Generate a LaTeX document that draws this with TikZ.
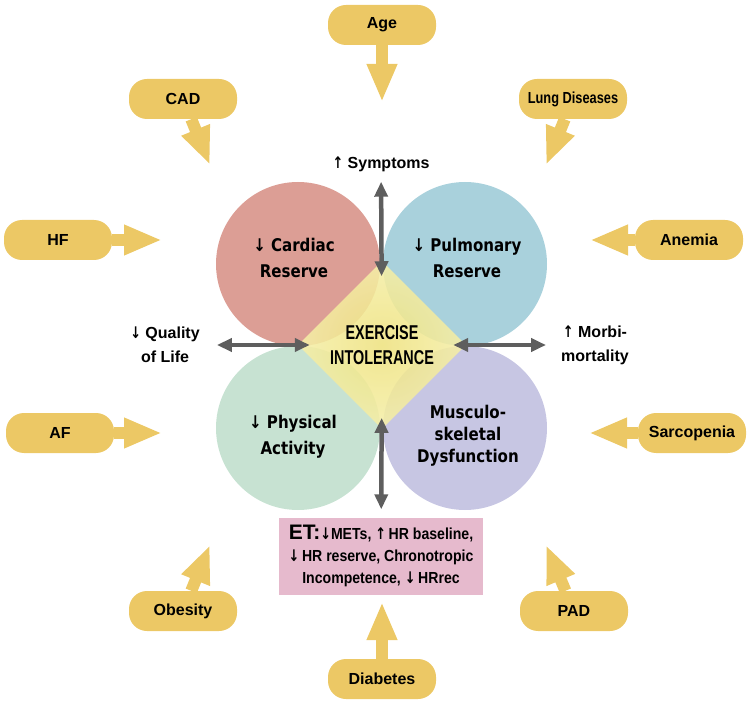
\documentclass[tikz,border=0pt]{standalone}
\usepackage{fontspec}
\setmainfont{Liberation Sans}
\newfontfamily\narrowfont[FakeStretch=0.8]{Liberation Sans}
\newfontfamily\etfont[FakeStretch=0.88]{Liberation Sans}
\newfontfamily\slimfont[FakeStretch=0.72]{Liberation Sans}
\newfontfamily\circfont[FakeStretch=0.86]{DejaVu Sans}
\newfontfamily\arrfont[FakeStretch=0.8]{DejaVu Sans}
\newcommand\dnar{{\arrfont\bfseries ↓}}
\newcommand\upar{{\arrfont\bfseries ↑}}
\usetikzlibrary{arrows.meta, shapes.geometric, positioning}
\definecolor{pillc}{RGB}{236,200,101}
\definecolor{cardc}{RGB}{220,158,149}
\definecolor{pulmc}{RGB}{169,209,220}
\definecolor{physc}{RGB}{199,226,210}
\definecolor{muscc}{RGB}{199,198,227}
\definecolor{etc}{RGB}{230,186,205}
\definecolor{arrc}{RGB}{94,94,94}
\definecolor{eiin}{RGB}{238,226,128}
\definecolor{eiout}{RGB}{245,239,170}
\tikzset{
  pill/.style={rectangle, rounded corners=18pt, fill=pillc, minimum width=108pt, minimum height=40pt, inner sep=2pt, font=\bfseries\fontsize{16}{18}\selectfont},
  yarrow/.style={draw=pillc, line width=12pt, -{Triangle[length=38pt,width=28pt]}},
  garrow/.style={draw=arrc, line width=4.5pt, {Triangle[length=15pt,width=13pt]}-{Triangle[length=15pt,width=13pt]}},
  lbl/.style={align=center, inner sep=2pt, font=\bfseries\fontsize{16}{24}\selectfont},
  circlbl/.style={align=center, inner sep=2pt, font=\circfont\bfseries\fontsize{17.5}{26}\selectfont}
}
\begin{document}
\begin{tikzpicture}[x=1pt,y=-1pt]
\useasboundingbox (0,0) rectangle (750,703);
\fill[cardc] (298,264) circle (82pt);
\fill[pulmc] (465,264) circle (82pt);
\fill[physc] (298,428) circle (82pt);
\fill[muscc] (465,428) circle (82pt);
\node[diamond, aspect=1, minimum width=168pt, minimum height=168pt, inner sep=0pt, shade, shading=radial, inner color=eiin, outer color=eiout, fill opacity=0.88, text opacity=1, align=center, font=\slimfont\bfseries\fontsize{20}{25}\selectfont] (ei) at (382,345) {EXERCISE\\INTOLERANCE};
\node[circlbl] (cardtxt) at (294,258) {↓ Cardiac\\Reserve};
\node[circlbl] (pulmtxt) at (467,258) {↓ Pulmonary\\Reserve};
\node[circlbl] (phystxt) at (293,437) {↓ Physical\\Activity};
\node[circlbl, font=\circfont\bfseries\fontsize{17.5}{22}\selectfont] (musctxt) at (468,436) {Musculo-\\skeletal\\Dysfunction};
\node[lbl] (symp) at (381,164) {\upar\ Symptoms};
\node[lbl] (qol) at (165,345) {\dnar\ Quality\\of Life};
\node[lbl] (morbi) at (595,345) {\upar\ Morbi-\\mortality};
\node[rectangle, fill=etc, minimum width=204pt, minimum height=77pt, inner sep=2pt, align=center, font=\etfont\bfseries\fontsize{16}{22}\selectfont] (et) at (381,556) {{\rmfamily\fontsize{21}{22}\selectfont ET:}\dnar METs, \upar\,HR baseline,\\\dnar\,HR reserve, Chronotropic\\Incompetence, \dnar\,HRrec};
\draw[garrow, shorten <=8pt, shorten >=-15pt] (symp) -- (ei);
\draw[garrow, shorten <=15pt, shorten >=-12pt] (qol) -- (ei);
\draw[garrow, shorten <=-13pt, shorten >=13pt] (ei) -- (morbi);
\draw[garrow, shorten <=-11pt, shorten >=8pt] (ei) -- (et);
\node[pill] (age) at (382,25) {Age};
\node[pill] (cad) at (183,99) {CAD};
\node[pill, font=\narrowfont\bfseries\fontsize{16}{18}\selectfont] (lung) at (573,99) {Lung Diseases};
\node[pill] (hf) at (58,240) {HF};
\node[pill] (anemia) at (689,240) {Anemia};
\node[pill] (af) at (60,433) {AF};
\node[pill] (sarco) at (692,433) {Sarcopenia};
\node[pill] (obesity) at (183,611) {Obesity};
\node[pill] (pad) at (574,611) {PAD};
\node[pill] (diab) at (382,679) {Diabetes};
\coordinate (agetip) at (382,102);
\coordinate (cadtip) at (210,165);
\coordinate (lungtip) at (546,165);
\coordinate (hftip) at (162,240);
\coordinate (anemiatip) at (590,240);
\coordinate (aftip) at (162,433);
\coordinate (sarcotip) at (589,433);
\coordinate (obesitytip) at (210,545);
\coordinate (padtip) at (546,545);
\coordinate (diabtip) at (382,602);
\foreach \src in {age,cad,lung,hf,anemia,af,sarco,obesity,pad,diab}
  \draw[yarrow] (\src) -- (\src tip);
\end{tikzpicture}
\end{document}
